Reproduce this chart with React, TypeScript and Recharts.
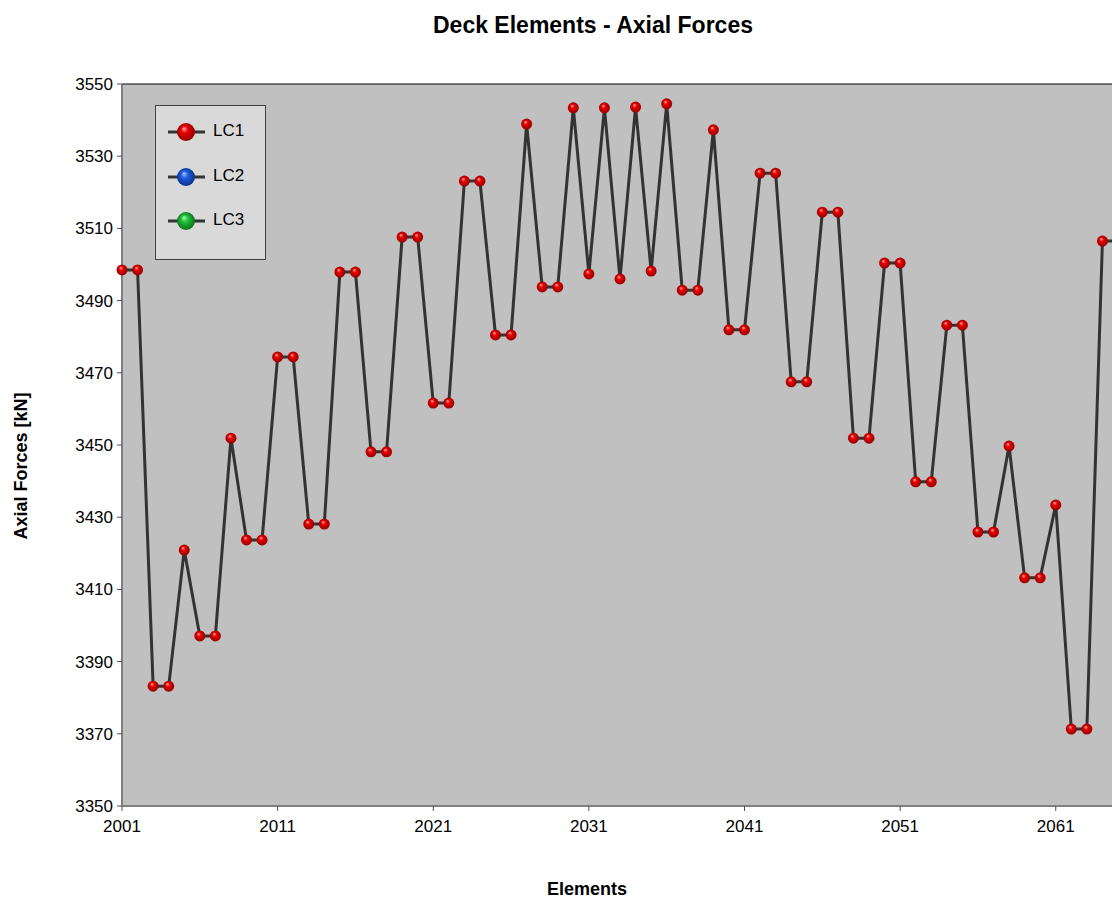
import React from 'react';
import { LineChart, Line, XAxis, YAxis, CartesianGrid, ReferenceLine } from 'recharts';

// Deck element numbers along the girder
const elements = [
  2001, 2002, 2003, 2004, 2005, 2006, 2007, 2008, 2009, 2010,
  2011, 2012, 2013, 2014, 2015, 2016, 2017, 2018, 2019, 2020,
  2021, 2022, 2023, 2024, 2025, 2026, 2027, 2028, 2029, 2030,
  2031, 2032, 2033, 2034, 2035, 2036, 2037, 2038, 2039, 2040,
  2041, 2042, 2043, 2044, 2045, 2046, 2047, 2048, 2049, 2050,
  2051, 2052, 2053, 2054, 2055, 2056, 2057, 2058, 2059, 2060,
  2061, 2062, 2063, 2064, 2065,
];

// Axial force per element, load case LC1 [kN]
const lc1 = [
  3498.5, 3498.5, 3383.2, 3383.2, 3420.9, 3397.1, 3397.1, 3451.9, 3423.7, 3423.7,
  3474.4, 3474.4, 3428.1, 3428.1, 3497.9, 3497.9, 3448.1, 3448.1, 3507.6, 3507.6,
  3461.6, 3461.6, 3523.1, 3523.1, 3480.5, 3480.5, 3538.9, 3493.8, 3493.8, 3543.4,
  3497.4, 3543.4, 3496.0, 3543.6, 3498.2, 3544.5, 3492.9, 3492.9, 3537.3, 3481.9,
  3481.9, 3525.3, 3525.3, 3467.5, 3467.5, 3514.5, 3514.5, 3451.9, 3451.9, 3500.4,
  3500.4, 3439.8, 3439.8, 3483.2, 3483.2, 3425.9, 3425.9, 3449.7, 3413.2, 3413.2,
  3433.4, 3371.3, 3371.3, 3506.5, 3506.5,
];

const xTicks = [2001, 2011, 2021, 2031, 2041, 2051, 2061];
const yTicks = [3350, 3370, 3390, 3410, 3430, 3450, 3470, 3490, 3510, 3530, 3550];

const legendItems = [
  { name: 'LC1', ball: 'ballRed' },
  { name: 'LC2', ball: 'ballBlue' },
  { name: 'LC3', ball: 'ballGreen' },
];

const data = elements.map((el, i) => ({ element: el, lc1: lc1[i] }));

const FONT = '"Liberation Sans", Arial, sans-serif';
const LINE = '#333333';

// shiny ball gradients, shared by the chart dots and the legend
function BallDefs() {
  const ball = (id: string, light: string, mid: string, dark: string) => (
    <radialGradient id={id} cx="50%" cy="50%" r="55%" fx="38%" fy="30%">
      <stop offset="0%" stopColor={light} />
      <stop offset="35%" stopColor={mid} />
      <stop offset="100%" stopColor={dark} />
    </radialGradient>
  );
  return (
    <svg width={0} height={0} style={{ position: 'absolute' }}>
      <defs>
        {ball('ballRed', '#ffb0b0', '#e80000', '#8a0000')}
        {ball('ballBlue', '#a8c8ff', '#1f5fe0', '#0a2a80')}
        {ball('ballGreen', '#b0ffb0', '#1fc03a', '#0a6a18')}
      </defs>
    </svg>
  );
}

const renderDot = (props: any) => {
  const { cx, cy, index } = props;
  if (cx == null || cy == null) return <g key={`d-${index}`} />;
  return <circle key={`d-${index}`} cx={cx} cy={cy} r={5.5} fill="url(#ballRed)" />;
};

function LegendBox() {
  return (
    <div
      style={{
        position: 'absolute', left: 155, top: 105, width: 109, height: 153,
        background: '#d9d9d9', border: '1px solid #404040',
      }}
    >
      {legendItems.map((item, i) => (
        <div key={item.name} style={{ position: 'absolute', left: 12, top: 14 + i * 44.5, height: 24 }}>
          <svg width={40} height={24} style={{ position: 'absolute', left: 0, top: 0 }}>
            <line x1={0} y1={12} x2={37} y2={12} stroke={LINE} strokeWidth={3} />
            <circle cx={18} cy={12} r={9} fill={`url(#${item.ball})`} />
          </svg>
          <span style={{ position: 'absolute', left: 45, top: 1, fontSize: 17, color: '#000', whiteSpace: 'nowrap' }}>
            {item.name}
          </span>
        </div>
      ))}
    </div>
  );
}

export default function App() {
  return (
    <div
      style={{
        position: 'relative', width: 1112, height: 899,
        overflow: 'hidden', background: '#fff', fontFamily: FONT,
      }}
    >
      <style>{'html, body { margin: 0; padding: 0; }'}</style>
      <BallDefs />
      <div style={{ position: 'absolute', left: 0, top: 12, width: 1186, textAlign: 'center', fontSize: 23, fontWeight: 'bold' }}>
        Deck Elements - Axial Forces
      </div>
      <div
        style={{
          position: 'absolute', left: 0, top: 880, width: 1174, height: 19, lineHeight: '19px',
          textAlign: 'center', fontSize: 18, fontWeight: 'bold',
        }}
      >
        Elements
      </div>
      <div
        style={{
          position: 'absolute', left: 21, top: 466, fontSize: 18, fontWeight: 'bold',
          transform: 'translate(-50%, -50%) rotate(-90deg)', whiteSpace: 'nowrap',
        }}
      >
        Axial Forces [kN]
      </div>

      <div style={{ position: 'absolute', left: 0, top: 0 }}>
        <LineChart width={1130} height={899} data={data} margin={{ top: 84, right: 12, left: 0, bottom: 63 }}>
          <CartesianGrid fill="#c0c0c0" horizontal={false} vertical={false} />
          <XAxis
            type="number"
            dataKey="element"
            domain={[2001, 2065]}
            ticks={xTicks}
            interval={0}
            height={30}
            tickSize={5}
            tickMargin={9}
            axisLine={{ stroke: '#808080', strokeWidth: 2 }}
            tickLine={{ stroke: '#505050' }}
            tick={{ fill: '#000', fontSize: 17, fontFamily: FONT }}
          />
          <YAxis
            type="number"
            domain={[3350, 3550]}
            ticks={yTicks}
            interval={0}
            width={122}
            tickSize={5}
            tickMargin={4}
            axisLine={{ stroke: '#808080', strokeWidth: 2 }}
            tickLine={{ stroke: '#505050' }}
            tick={{ fill: '#000', fontSize: 17, fontFamily: FONT }}
          />
          <ReferenceLine y={3550} stroke="#000" strokeWidth={1} />
          <Line
            type="linear"
            dataKey="lc1"
            name="LC1"
            stroke={LINE}
            strokeWidth={3}
            dot={renderDot}
            activeDot={false}
            isAnimationActive={false}
          />
        </LineChart>
      </div>

      <LegendBox />
    </div>
  );
}
